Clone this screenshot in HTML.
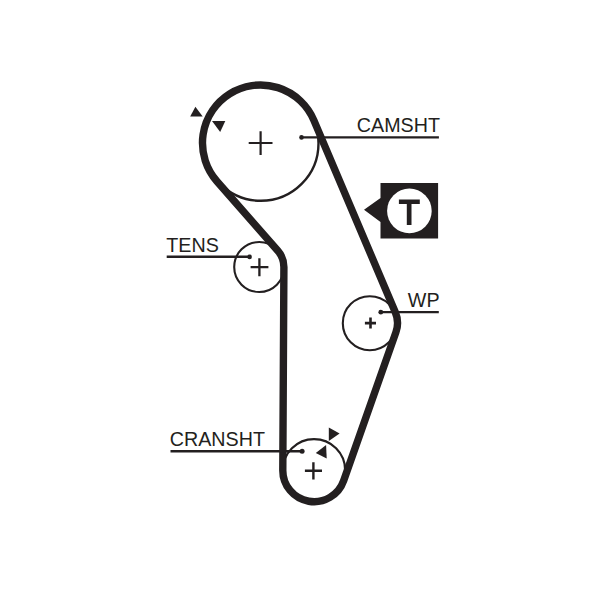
<!DOCTYPE html>
<html><head><meta charset="utf-8">
<style>
html,body{margin:0;padding:0;background:#fff;}
body{width:600px;height:589px;overflow:hidden;position:relative;}
svg{position:absolute;left:0;top:0;}
text{font-family:"Liberation Sans",sans-serif;font-size:19.7px;fill:#231f20;}
</style></head><body>
<svg width="600" height="589" viewBox="0 0 600 589" xmlns="http://www.w3.org/2000/svg">
<g fill="none" stroke="#231f20">
<circle cx="260.9" cy="143.2" r="57.6" stroke-width="2.4"/>
<circle cx="259.2" cy="267" r="25" stroke-width="2.1"/>
<circle cx="369.8" cy="323.2" r="27" stroke-width="2.1"/>
<circle cx="314" cy="470.4" r="31.2" stroke-width="2.2"/>
<path d="M216.87 181.21 A58.00 58.00 0 1 1 313.89 120.35 L395.32 312.26 A27.50 27.50 0 0 1 395.94 332.13 L343.63 480.79 A31.30 31.30 0 0 1 282.80 470.23 L283.90 267.13 A24.60 24.60 0 0 0 277.81 250.79 L216.87 181.21 Z" stroke-width="7.4" stroke-linejoin="round"/>
<!-- crosses -->
<path d="M248.7 143H272.5M260.6 131.3V154.9" stroke-width="2.2"/>
<path d="M250.6 267.2H268.4M259.4 258.3V276.2" stroke-width="2.3"/>
<path d="M364.9 323.1H376M370.5 317.6V328.4" stroke-width="2.6"/>
<path d="M304.9 470.7H322M313.4 462.2V479.5" stroke-width="2.4"/>
<!-- leaders -->
<path d="M301.5 137.4H438.9" stroke-width="2.4"/>
<path d="M166.7 256.75H249.6" stroke-width="2.5"/>
<path d="M381 312.1H438.8" stroke-width="2.2"/>
<path d="M170.5 451.2H302.1" stroke-width="2.5"/>
</g>
<g fill="#231f20">
<circle cx="301.5" cy="137.4" r="2.3"/>
<circle cx="249.6" cy="256.9" r="2.3"/>
<circle cx="380.8" cy="312.2" r="2.4"/>
<circle cx="302.1" cy="451.2" r="2.5"/>
<!-- triangles -->
<path d="M195.4 106.8L190.2 116.4L202.7 116.4Z"/>
<path d="M212 121.1L225.3 121.1L220.2 132Z"/>
<path d="M328.8 427.6L328.8 441L339.6 433.4Z"/>
<path d="M315.8 452.9L326.1 445L326.7 458.4Z"/>
<!-- T badge -->
<path d="M380.5 182.9H438.1V238.6H380.5V222L364 209.7L380.5 197.9Z"/>
</g>
<circle cx="409.4" cy="210.9" r="22.3" fill="#fff"/>
<path d="M398.9 199.4H419.8V203.9H411.5V224.9H406.8V203.9H398.9Z" fill="#231f20"/>
<text x="356.8" y="132.3">CAMSHT</text>
<text x="166.3" y="252">TENS</text>
<text x="407.8" y="307">WP</text>
<text x="169.8" y="445.8">CRANSHT</text>
</svg>
</body></html>
